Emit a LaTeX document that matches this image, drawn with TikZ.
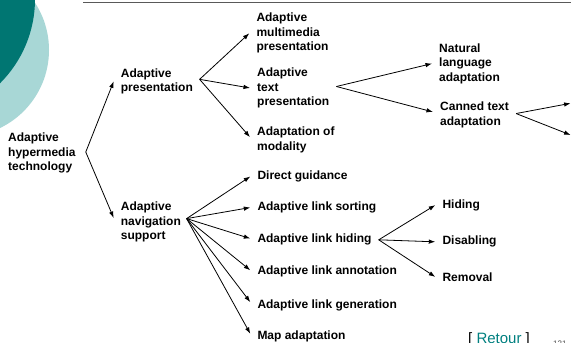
\documentclass[tikz,border=0pt]{standalone}
\usepackage{fontspec}
\setmainfont{Liberation Sans}
\usetikzlibrary{arrows.meta,calc}
\definecolor{darkteal}{RGB}{0,118,114}
\definecolor{lightteal}{RGB}{168,215,214}
\definecolor{retc}{RGB}{0,128,128}
\begin{document}
\begin{tikzpicture}[x=1pt,y=-1pt,
  lbl/.style={font=\fontsize{12}{14.5}\selectfont\bfseries, align=left, anchor=north west, inner xsep=7pt, inner ysep=0pt},
  conn/.style={-{Latex[length=6.5pt,width=4.5pt]}, line width=0.8pt},
  ]
\useasboundingbox (0,0) rectangle (571,343);
\fill[white] (0,0) rectangle (571,343);
\begin{scope}
  \clip (0,0) rectangle (571,343);
  \fill[lightteal] (-37.6,50) circle[radius=86.6];
  \fill[darkteal] (-84,-1) circle[radius=119];
\end{scope}
\draw[line width=1.5pt, black!65] (83,2.3) -- (571,2.3);

\node[lbl] (hyp) at (1,133) {Adaptive\\hypermedia\\technology};
\node[lbl] (ap) at (113.7,68.3) {Adaptive\\presentation};
\node[lbl] (amp) at (249.3,13) {Adaptive\\multimedia\\presentation};
\node[lbl] (atp) at (250,67.7) {Adaptive\\text\\presentation};
\node[lbl] (aom) at (250,126.7) {Adaptation of\\modality};
\node[lbl] (nla) at (432,43.3) {Natural\\language\\adaptation};
\node[lbl] (cta) at (433,101.7) {Canned text\\adaptation};
\node[lbl] (ans) at (113.7,201.7) {Adaptive\\navigation\\support};
\node[lbl] (dg) at (250.3,170.7) {Direct guidance};
\node[lbl] (als) at (250.3,201.7) {Adaptive link sorting};
\node[lbl] (alh) at (250.3,234) {Adaptive link hiding};
\node[lbl] (ala) at (250.3,266) {Adaptive link annotation};
\node[lbl] (alg) at (250.3,299.3) {Adaptive link generation};
\node[lbl] (ma) at (250.3,331) {Map adaptation};
\node[lbl] (hid) at (435.3,199.3) {Hiding};
\node[lbl] (dis) at (435.3,236) {Disabling};
\node[lbl] (rem) at (435.3,272.3) {Removal};

\node[anchor=base west, inner sep=0pt, font=\fontsize{15}{18}\selectfont] (ret) at (468,343.7) {[ \textcolor{retc}{Retour} ]};
\node[anchor=base west, inner sep=0pt, font=\fontsize{8}{9}\selectfont, text=black!70] (pg) at (553,346) {121};

\coordinate (v) at ($(hyp.east)+(3,-1.3)$);
\draw[conn] (v) -- (ap.west);
\draw[conn] (v) -- ($(ans.west)+(0,-4)$);

\coordinate (apo) at ($(ap.east)+(-0.5,-2)$);
\draw[conn] (apo) -- (amp.west);
\draw[conn] (apo) -- (atp.west);
\draw[conn] (apo) -- ($(aom.west)+(0,-2.6)$);

\coordinate (atpo) at ($(atp.east)+(0,-1.5)$);
\draw[conn] (atpo) -- (nla.west);
\draw[conn] (atpo) -- ($(cta.west)+(0,-2.8)$);

\coordinate (ctao) at ($(cta.east)+(0,-1.2)$);
\coordinate (o1) at (570.6,103.3);
\coordinate (o2) at (570.6,135);
\draw[conn] (ctao) -- (o1);
\draw[conn] (ctao) -- (o2);

\coordinate (anso) at ($(ans.east)+(-1.5,-3.4)$);
\draw[conn] (anso) -- (dg.west);
\draw[conn] (anso) -- (als.west);
\draw[conn] (anso) -- ($(alh.west)+(0,-1.3)$);
\draw[conn] (anso) -- ($(ala.west)+(0,-1.5)$);
\draw[conn] (anso) -- ($(alg.west)+(0,-3)$);
\draw[conn] (anso) -- ($(ma.west)+(0,-3)$);

\coordinate (alho) at (alh.east);
\draw[conn] (alho) -- (hid.west);
\draw[conn] (alho) -- (dis.west);
\draw[conn] (alho) -- (rem.west);
\end{tikzpicture}
\end{document}
